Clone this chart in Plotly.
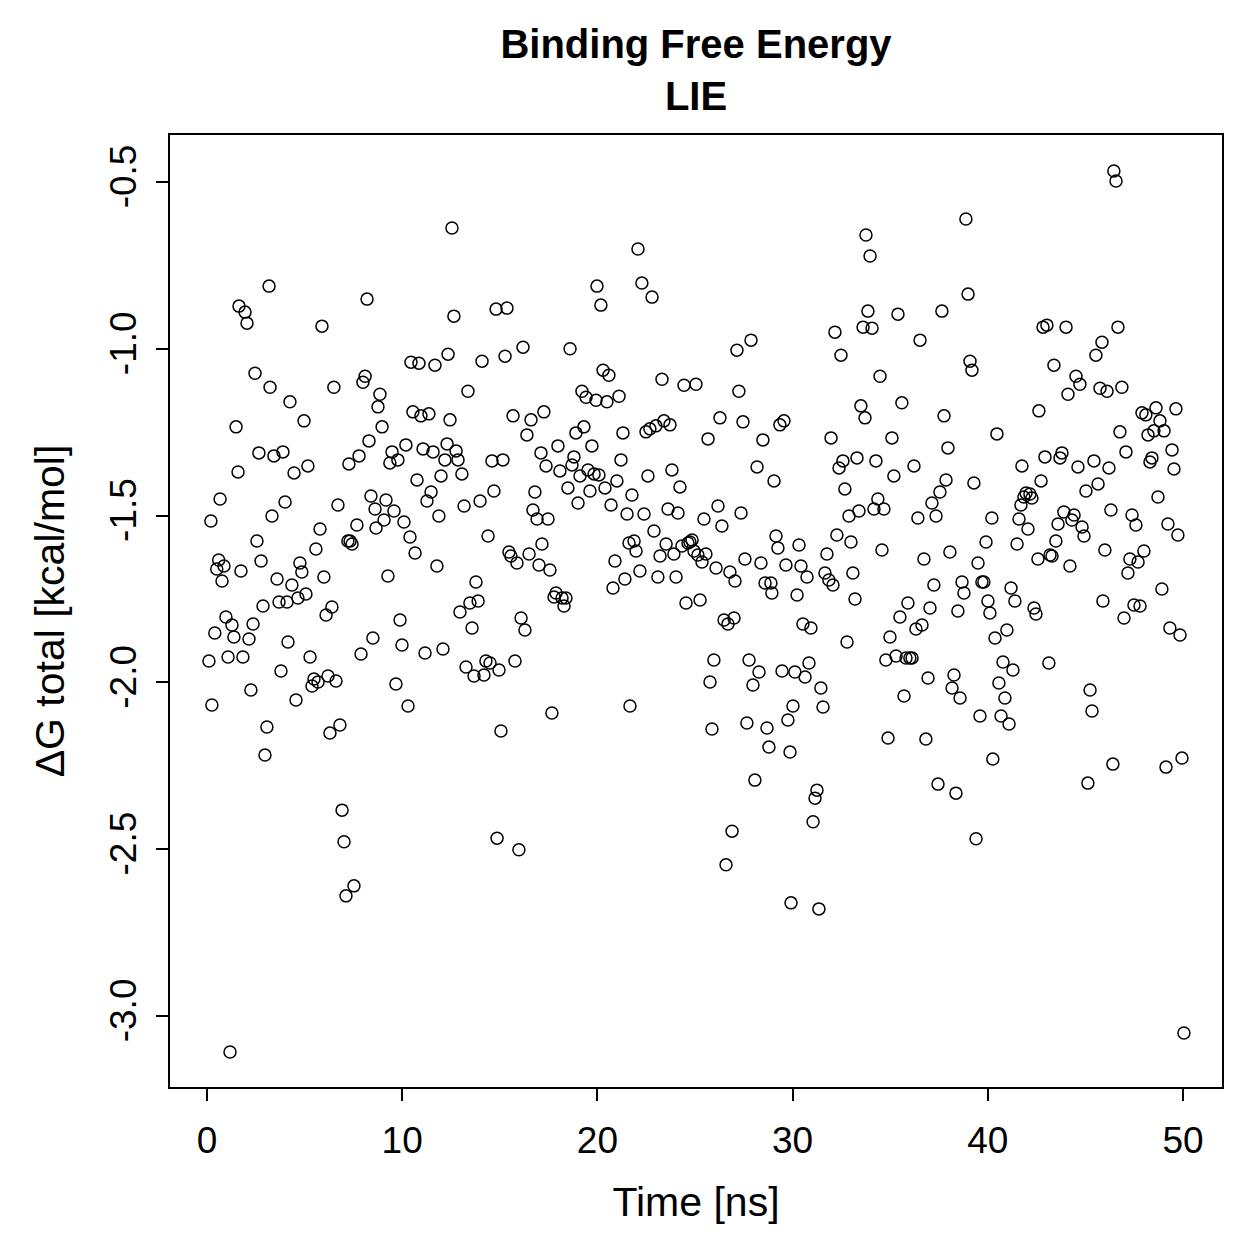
import plotly.graph_objects as go

# Time [ns] and ΔG total [kcal/mol]
time_ns = [
 0.1,0.2,0.25,0.4,0.5,0.6,0.67,0.77,0.87,0.97,1.08,1.18,1.28,1.38,1.49,1.59,1.64,1.74,1.84,1.95,
 2.05,2.15,2.25,2.36,2.46,2.56,2.66,2.77,2.87,2.97,3.07,3.18,3.23,3.33,3.43,3.59,3.69,3.79,3.89,4.0,
 4.1,4.15,4.25,4.35,4.46,4.56,4.66,4.76,4.86,4.97,5.07,5.17,5.28,5.38,5.48,5.58,5.69,5.79,5.89,5.99,
 6.1,6.2,6.3,6.4,6.5,6.61,6.71,6.81,6.92,7.02,7.12,7.22,7.27,7.33,7.43,7.53,7.68,7.79,7.89,7.99,
 8.1,8.2,8.3,8.4,8.5,8.61,8.66,8.76,8.86,8.97,9.07,9.17,9.27,9.37,9.48,9.58,9.68,9.78,9.89,9.99,
 10.09,10.19,10.3,10.4,10.45,10.55,10.66,10.76,10.86,10.96,11.07,11.17,11.27,11.37,11.48,11.58,11.68,11.78,11.88,11.99,
 12.09,12.19,12.3,12.35,12.45,12.55,12.65,12.76,12.86,12.96,13.06,13.17,13.27,13.37,13.47,13.58,13.68,13.78,13.89,13.99,
 14.09,14.19,14.29,14.4,14.5,14.6,14.7,14.81,14.86,14.96,15.06,15.16,15.27,15.37,15.47,15.57,15.68,15.78,15.88,15.98,
 16.09,16.19,16.29,16.39,16.5,16.6,16.7,16.8,16.91,17.01,17.11,17.16,17.26,17.37,17.47,17.57,17.67,17.78,17.88,17.98,
 18.08,18.19,18.29,18.39,18.49,18.6,18.7,18.8,18.9,19.01,19.11,19.21,19.31,19.42,19.52,19.62,19.72,19.83,19.93,19.98,
 20.08,20.18,20.29,20.39,20.49,20.59,20.7,20.8,20.9,21.0,21.11,21.21,21.31,21.41,21.52,21.62,21.67,21.77,21.88,21.98,
 22.08,22.18,22.28,22.39,22.49,22.59,22.69,22.8,22.9,23.0,23.1,23.21,23.31,23.41,23.52,23.62,23.72,23.82,23.92,24.03,
 24.13,24.23,24.33,24.44,24.54,24.64,24.74,24.85,24.95,25.05,25.15,25.26,25.36,25.46,25.56,25.67,25.77,25.87,25.97,26.08,
 26.18,26.28,26.38,26.49,26.59,26.69,26.79,26.9,27.0,27.05,27.15,27.25,27.36,27.46,27.56,27.66,27.77,27.87,27.97,28.07,
 28.18,28.28,28.38,28.48,28.59,28.69,28.79,28.89,28.94,29.05,29.15,29.25,29.35,29.46,29.56,29.66,29.76,29.87,29.92,30.02,
 30.12,30.23,30.33,30.43,30.53,30.64,30.74,30.84,30.94,31.05,31.15,31.25,31.35,31.45,31.56,31.66,31.76,31.86,31.97,32.07,
 32.17,32.27,32.38,32.48,32.58,32.68,32.79,32.89,32.99,33.09,33.2,33.3,33.4,33.5,33.61,33.71,33.76,33.86,33.97,34.07,
 34.17,34.27,34.37,34.48,34.58,34.68,34.78,34.89,34.99,35.09,35.19,35.3,35.4,35.5,35.6,35.71,35.81,35.91,36.01,36.12,
 36.22,36.32,36.42,36.53,36.63,36.73,36.83,36.94,37.04,37.14,37.24,37.35,37.45,37.55,37.65,37.76,37.86,37.96,38.06,38.17,
 38.27,38.37,38.47,38.58,38.68,38.78,38.88,38.99,39.09,39.19,39.29,39.4,39.5,39.6,39.7,39.8,39.91,40.01,40.11,40.21,
 40.26,40.37,40.47,40.57,40.68,40.78,40.88,40.98,41.09,41.19,41.29,41.39,41.5,41.6,41.7,41.75,41.85,41.96,42.06,42.16,
 42.26,42.37,42.47,42.57,42.62,42.73,42.83,42.93,43.03,43.13,43.19,43.29,43.39,43.49,43.6,43.7,43.8,43.9,44.01,44.11,
 44.21,44.31,44.42,44.52,44.62,44.72,44.83,44.93,45.03,45.13,45.24,45.34,45.44,45.54,45.65,45.75,45.85,45.9,46.0,46.11,
 46.21,46.31,46.41,46.46,46.57,46.67,46.77,46.87,46.98,47.08,47.18,47.28,47.39,47.49,47.59,47.7,47.8,47.9,48.0,48.1,
 48.21,48.31,48.41,48.51,48.62,48.72,48.82,48.92,49.03,49.13,49.23,49.33,49.44,49.54,49.64,49.74,49.85,49.95,50.05,
]

dg_total = [
 -1.936,-1.516,-2.068,-1.852,-1.660,-1.633,-1.450,-1.696,-1.651,-1.804,-1.924,-3.108,-1.828,-1.864,-1.234,-1.369,-0.872,-1.666,-1.924,-0.890,
 -0.923,-1.870,-2.023,-1.825,-1.073,-1.576,-1.312,-1.636,-1.771,-2.218,-2.134,-0.812,-1.115,-1.501,-1.321,-1.690,-1.759,-1.966,-1.309,-1.459,
 -1.759,-1.879,-1.159,-1.708,-1.372,-2.053,-1.747,-1.642,-1.669,-1.216,-1.735,-1.351,-1.924,-2.011,-1.990,-1.600,-1.999,-1.540,-0.932,-1.684,
 -1.798,-1.981,-2.152,-1.774,-1.115,-1.996,-1.468,-2.128,-2.383,-2.478,-2.640,-1.576,-1.345,-1.576,-1.585,-2.610,-1.528,-1.321,-1.915,-1.100,
 -1.082,-0.851,-1.276,-1.441,-1.867,-1.480,-1.537,-1.174,-1.136,-1.234,-1.513,-1.453,-1.681,-1.342,-1.309,-1.486,-2.005,-1.333,-1.813,-1.888,
 -1.519,-1.288,-2.071,-1.564,-1.040,-1.189,-1.612,-1.393,-1.043,-1.201,-1.300,-1.912,-1.456,-1.195,-1.429,-1.309,-1.049,-1.651,-1.501,-1.381,
 -1.900,-1.333,-1.285,-1.016,-1.213,-0.638,-0.902,-1.306,-1.333,-1.789,-1.375,-1.471,-1.954,-1.127,-1.762,-1.837,-1.981,-1.699,-1.756,-1.456,
 -1.037,-1.978,-1.936,-1.561,-1.942,-1.336,-1.426,-0.881,-2.467,-1.963,-2.146,-1.333,-1.022,-0.878,-1.609,-1.621,-1.201,-1.936,-1.642,-2.502,
 -1.807,-0.995,-1.843,-1.258,-1.615,-1.213,-1.483,-1.429,-1.510,-1.648,-1.312,-1.585,-1.189,-1.351,-1.510,-1.663,-2.092,-1.744,-1.732,-1.291,
 -1.366,-1.747,-1.771,-1.747,-1.417,-1.000,-1.348,-1.324,-1.252,-1.462,-1.381,-1.127,-1.234,-1.145,-1.363,-1.426,-1.291,-1.375,-1.154,-0.812,
 -1.378,-0.869,-1.064,-1.417,-1.159,-1.079,-1.468,-1.717,-1.636,-1.396,-1.142,-1.333,-1.252,-1.690,-1.495,-1.582,-2.071,-1.438,-1.576,-1.606,
 -0.701,-1.666,-0.803,-1.495,-1.249,-1.381,-1.240,-0.845,-1.546,-1.231,-1.684,-1.621,-1.091,-1.216,-1.585,-1.480,-1.228,-1.363,-1.615,-1.684,
 -1.492,-1.414,-1.591,-1.109,-1.762,-1.582,-1.579,-1.573,-1.606,-1.106,-1.618,-1.753,-1.639,-1.510,-1.615,-1.270,-1.999,-2.140,-1.933,-1.657,
 -1.471,-1.207,-1.531,-1.813,-2.547,-1.825,-1.669,-2.446,-1.807,-1.696,-1.004,-1.127,-1.492,-1.219,-1.630,-2.122,-1.933,-0.974,-2.008,-2.293,
 -1.354,-1.969,-1.642,-1.273,-1.702,-2.137,-2.194,-1.702,-1.732,-1.396,-1.561,-1.597,-1.228,-1.966,-1.216,-1.648,-2.113,-2.209,-2.661,-2.071,
 -1.969,-1.738,-1.588,-1.651,-1.825,-1.984,-1.684,-1.942,-1.837,-2.418,-2.347,-2.323,-2.679,-2.017,-2.074,-1.672,-1.615,-1.693,-1.267,-1.708,
 -0.950,-1.558,-1.357,-1.019,-1.336,-1.420,-1.879,-1.501,-1.579,-1.672,-1.750,-1.327,-1.486,-1.171,-0.935,-1.207,-0.659,-0.887,-0.722,-0.938,
 -1.480,-1.336,-1.450,-1.082,-1.603,-1.480,-1.933,-2.167,-1.864,-1.267,-1.381,-1.921,-0.896,-1.804,-1.162,-2.041,-1.927,-1.762,-1.927,-1.927,
 -1.351,-1.840,-1.507,-0.974,-1.828,-1.630,-2.170,-1.987,-1.777,-1.462,-1.708,-1.501,-2.305,-1.429,-0.887,-1.201,-1.393,-1.297,-1.609,-2.017,
 -1.978,-2.332,-1.786,-2.047,-1.699,-1.732,-0.611,-0.836,-1.037,-1.064,-1.402,-2.469,-1.642,-2.101,-1.699,-1.699,-1.579,-1.756,-1.792,-1.507,
 -2.230,-1.867,-1.255,-2.002,-2.101,-1.939,-2.047,-1.843,-2.125,-1.717,-1.963,-1.756,-1.585,-1.510,-1.468,-1.351,-1.444,-1.432,-1.540,-1.435,
 -1.447,-1.777,-1.795,-1.630,-1.186,-1.396,-0.935,-1.324,-0.929,-1.942,-1.618,-1.621,-1.049,-1.576,-1.525,-1.327,-1.312,-1.489,-0.935,-1.136,
 -1.651,-1.513,-1.498,-1.082,-1.354,-1.106,-1.534,-1.561,-1.426,-2.302,-2.023,-2.086,-1.336,-1.019,-1.405,-1.118,-0.980,-1.756,-1.603,-1.127,
 -1.357,-1.483,-2.245,-0.467,-0.497,-0.935,-1.249,-1.115,-1.807,-1.309,-1.672,-1.630,-1.498,-1.768,-1.528,-1.639,-1.771,-1.192,-1.606,-1.198,
 -1.258,-1.339,-1.327,-1.246,-1.177,-1.444,-1.216,-1.720,-1.246,-2.254,-1.525,-1.837,-1.303,-1.360,-1.180,-1.558,-1.858,-2.227,-3.051,
]

x_ticks = [0, 10, 20, 30, 40, 50]
y_ticks = [-0.5, -1.0, -1.5, -2.0, -2.5, -3.0]
y_tick_text = ["-0.5", "-1.0", "-1.5", "-2.0", "-2.5", "-3.0"]

FONT = "Liberation Sans, Arial, Helvetica, sans-serif"

fig = go.Figure()
fig.add_trace(go.Scatter(
    x=time_ns, y=dg_total, mode="markers",
    marker=dict(symbol="circle-open", size=12, color="black", line=dict(width=1.5, color="black")),
    showlegend=False,
))

axis_common = dict(
    showline=True, linecolor="black", linewidth=2, mirror=True,
    ticks="outside", ticklen=12, tickwidth=2, tickcolor="black",
    showgrid=False, zeroline=False,
    tickfont=dict(family=FONT, size=37, color="black"),
)

fig.update_layout(
    width=1259, height=1259,
    paper_bgcolor="white", plot_bgcolor="white",
    margin=dict(l=170, r=37, t=135, b=172, pad=0),
    title=dict(
        text="<b>Binding Free Energy<br>LIE</b>",
        x=(170 + 1222) / 2 / 1259, xanchor="center",
        y=1 - 58 / 1259, yanchor="middle",
        font=dict(family=FONT, size=40, color="black"),
    ),
    xaxis=dict(
        range=[-1.895, 52.0], tickvals=x_ticks, ticklabelstandoff=8,
        title=dict(text="Time [ns]", font=dict(family=FONT, size=41, color="black"), standoff=27),
        **axis_common,
    ),
    yaxis=dict(
        range=[-3.213, -0.359], tickvals=y_ticks, ticktext=y_tick_text, tickangle=-90,
        ticklabelstandoff=5,
        title=dict(text="ΔG total [kcal/mol]", font=dict(family=FONT, size=41, color="black"), standoff=26),
        **axis_common,
    ),
)

fig.write_html("out.html")
